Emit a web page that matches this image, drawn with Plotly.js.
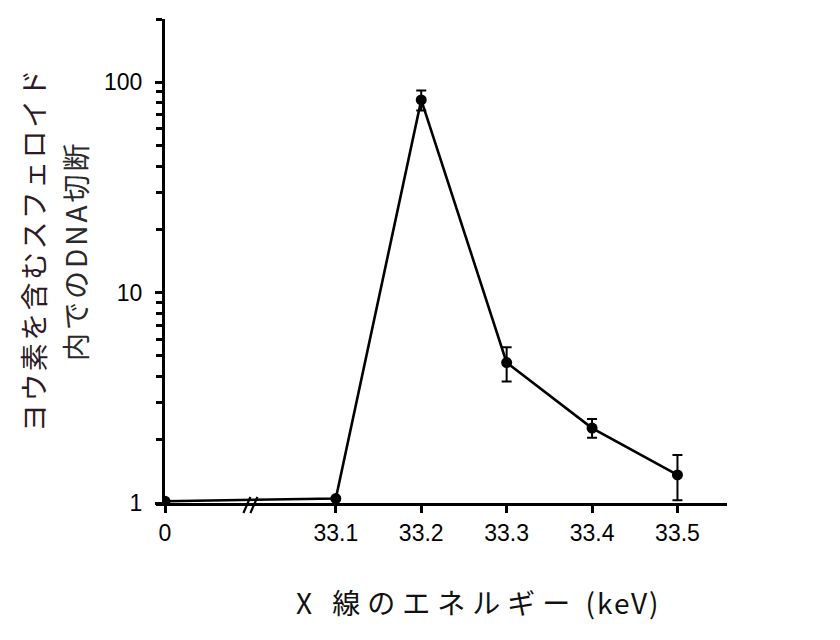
<!DOCTYPE html>
<html>
<head>
<meta charset="utf-8">
<script src="https://cdn.plot.ly/plotly-3.0.1.min.js"></script>
<style>
  html, body { margin: 0; padding: 0; background: #fff; }
  #chart { width: 840px; height: 640px; }
</style>
</head>
<body>
<div id="chart"></div>
<script>
// X-ray energy labels (keV) and their positions on the broken axis
const energyLabels = ['0', '33.1', '33.2', '33.3', '33.4', '33.5'];
const axisPositions = [32.9, 33.1, 33.2, 33.3, 33.4, 33.5];
// DNA breaks in iodine-containing spheroids
const dnaBreaks = [1.02, 1.05, 82.5, 4.65, 2.27, 1.36];
const errPlus  = [0, 0, 9.0, 0.85, 0.24, 0.33];
const errMinus = [0, 0, 9.0, 0.87, 0.23, 0.33];
// y axis ticks: labeled decades and unlabeled intermediate ticks
const yMajorVals = [1, 10, 100];
const yMajorText = ['1', '10', '100'];
const yMinorVals = [2,3,4,5,6,7,8,9,20,30,40,50,60,70,80,90,200];

const trace = {
  x: axisPositions,
  y: dnaBreaks,
  type: 'scatter',
  mode: 'lines+markers',
  line: { color: '#000', width: 2.6 },
  marker: { color: '#000', size: 11 },
  error_y: {
    type: 'data', symmetric: false,
    array: errPlus, arrayminus: errMinus,
    color: '#000', thickness: 2, width: 5
  },
  showlegend: false,
  hoverinfo: 'skip'
};

const plotH = 640 - 19 - 137;
const plotW = 840 - 165 - 113;

const layout = {
  width: 840, height: 640,
  margin: { l: 165, r: 113, t: 19, b: 137 },
  paper_bgcolor: '#fff', plot_bgcolor: '#fff',
  xaxis: {
    range: [32.9, 33.558],
    tickmode: 'array', tickvals: axisPositions, ticktext: energyLabels,
    showline: true, linecolor: '#000', linewidth: 3,
    ticks: 'outside', ticklen: 7, tickwidth: 3, tickcolor: '#000',
    showgrid: false, zeroline: false,
    tickfont: { family: 'Liberation Sans, Arial, sans-serif', size: 23, color: '#000' }
  },
  yaxis: {
    type: 'log',
    range: [0, 2.3011],
    tickmode: 'array', tickvals: yMajorVals, ticktext: yMajorText,
    showline: true, linecolor: '#000', linewidth: 3,
    ticks: 'outside', ticklen: 7, tickwidth: 3, tickcolor: '#000',
    minor: { ticks: 'outside', ticklen: 6, tickwidth: 2.6, tickcolor: '#000', tickvals: yMinorVals },
    showgrid: false, zeroline: false,
    ticklabelstandoff: 8,
    tickfont: { family: 'Liberation Sans, Arial, sans-serif', size: 23, color: '#000' }
  },
  annotations: [
    { text: '<span style="letter-spacing:7px">X 線のエネルギー</span><span style="letter-spacing:2px"> (keV)</span>',
      xref: 'paper', yref: 'paper',
      x: (478 - 165) / plotW, y: -(602 - 503) / plotH,
      xanchor: 'center', yanchor: 'middle', showarrow: false,
      font: { family: 'Noto Sans CJK JP, sans-serif', size: 28, color: '#111' } },
    { text: '<span style="letter-spacing:2.4px">ヨウ素を含むスフェロイド</span>',
      xref: 'paper', yref: 'paper', textangle: -90,
      x: (33 - 165) / plotW, y: (503 - 250) / plotH,
      xanchor: 'center', yanchor: 'middle', showarrow: false,
      font: { family: 'Noto Sans CJK JP, sans-serif', size: 28, color: '#2e1a24' } },
    { text: '<span style="letter-spacing:3px">内でのDNA切断</span>',
      xref: 'paper', yref: 'paper', textangle: -90,
      x: (75 - 165) / plotW, y: (503 - 251) / plotH,
      xanchor: 'center', yanchor: 'middle', showarrow: false,
      font: { family: 'Noto Sans CJK JP, sans-serif', size: 28, color: '#2a2a2a' } }
  ],
  shapes: [
    // extension of the x axis line to the left of the y axis
    { type: 'line', xref: 'paper', yref: 'paper', xsizemode: 'pixel', ysizemode: 'pixel',
      xanchor: 0, yanchor: 0, x0: -9, x1: 0, y0: -1.5, y1: -1.5,
      line: { color: '#000', width: 3 } },
    // axis break marks
    { type: 'line', xref: 'x', yref: 'paper', xsizemode: 'pixel', ysizemode: 'pixel',
      xanchor: 33.0, yanchor: 0, x0: -7, x1: 0, y0: -10, y1: 6,
      line: { color: '#000', width: 2.2 } },
    { type: 'line', xref: 'x', yref: 'paper', xsizemode: 'pixel', ysizemode: 'pixel',
      xanchor: 33.0, yanchor: 0, x0: 0, x1: 7, y0: -10, y1: 6,
      line: { color: '#000', width: 2.2 } }
  ]
};

Plotly.newPlot('chart', [trace], layout, { displayModeBar: false });
</script>
</body>
</html>
